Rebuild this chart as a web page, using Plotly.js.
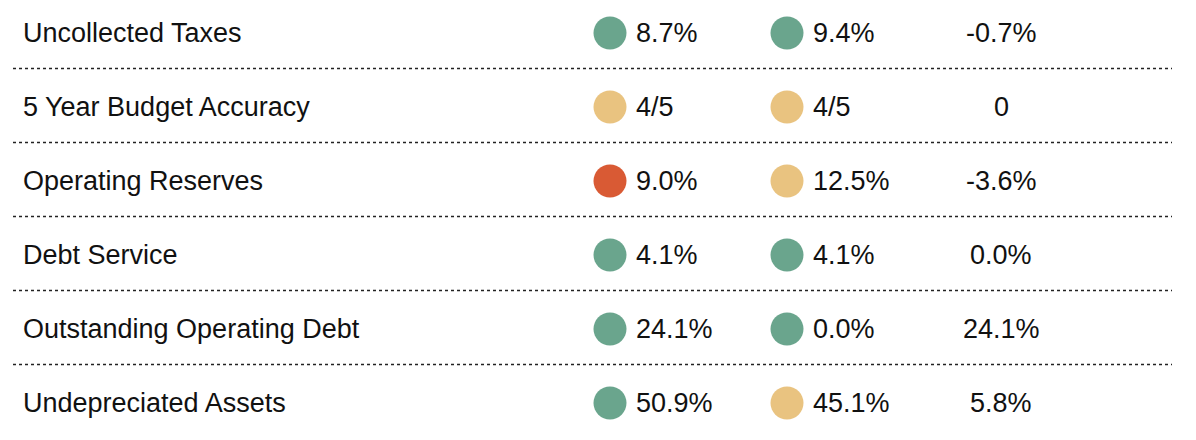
<!DOCTYPE html>
<html>
<head>
<meta charset="utf-8">
<script src="https://cdn.plot.ly/plotly-3.0.1.min.js"></script>
<style>html,body{margin:0;padding:0;background:#fff;}#chart{width:1196px;height:440px;}</style>
</head>
<body>
<div id="chart"></div>
<script>
const metrics = ["Uncollected Taxes","5 Year Budget Accuracy","Operating Reserves","Debt Service","Outstanding Operating Debt","Undepreciated Assets"];
const currentValues = ["8.7%","4/5","9.0%","4.1%","24.1%","50.9%"];
const currentStatus = ["good","warn","bad","good","good","good"];
const priorValues = ["9.4%","4/5","12.5%","4.1%","0.0%","45.1%"];
const priorStatus = ["good","warn","warn","good","good","warn"];
const changeValues = ["-0.7%","0","-3.6%","0.0%","24.1%","5.8%"];

const statusColors = {good:"#6AA58D", warn:"#E9C380", bad:"#D95A34"};
const rows = metrics.map((m,i)=>i);
const FONT = "'Liberation Sans', Arial, sans-serif";
const TXT = "#111111";
const FS = 27;

const traces = [
  {x: rows.map(()=>610), y: rows, mode:"markers", type:"scatter",
   marker:{size:33, color: currentStatus.map(s=>statusColors[s])}, hoverinfo:"skip"},
  {x: rows.map(()=>787), y: rows, mode:"markers", type:"scatter",
   marker:{size:33, color: priorStatus.map(s=>statusColors[s])}, hoverinfo:"skip"}
];

const annotations = [];
metrics.forEach((m,i)=>{
  annotations.push({x:21, y:i, text:m, xanchor:"left", yanchor:"middle", showarrow:false, font:{family:FONT,size:FS,color:TXT}});
  annotations.push({x:634, y:i, text:currentValues[i], xanchor:"left", yanchor:"middle", showarrow:false, font:{family:FONT,size:FS,color:TXT}});
  annotations.push({x:811, y:i, text:priorValues[i], xanchor:"left", yanchor:"middle", showarrow:false, font:{family:FONT,size:FS,color:TXT}});
  annotations.push({x:1001, y:i, text:changeValues[i], xanchor:"center", yanchor:"middle", showarrow:false, font:{family:FONT,size:FS,color:TXT}});
});

const shapes = [];
for (let i=0;i<metrics.length-1;i++){
  shapes.push({type:"line", xref:"x", yref:"y", x0:13, x1:1172, y0:i+0.48, y1:i+0.48,
    line:{color:"#222", width:1.6, dash:"dot"}});
}

const layout = {
  width:1196, height:440,
  margin:{l:0,r:0,t:0,b:0},
  paper_bgcolor:"#fff", plot_bgcolor:"#fff",
  showlegend:false,
  xaxis:{range:[0,1196], visible:false, fixedrange:true},
  yaxis:{range:[5.5,-0.4459], visible:false, fixedrange:true},
  annotations, shapes
};
Plotly.newPlot("chart", traces, layout, {displayModeBar:false, staticPlot:true});
</script>
</body>
</html>
